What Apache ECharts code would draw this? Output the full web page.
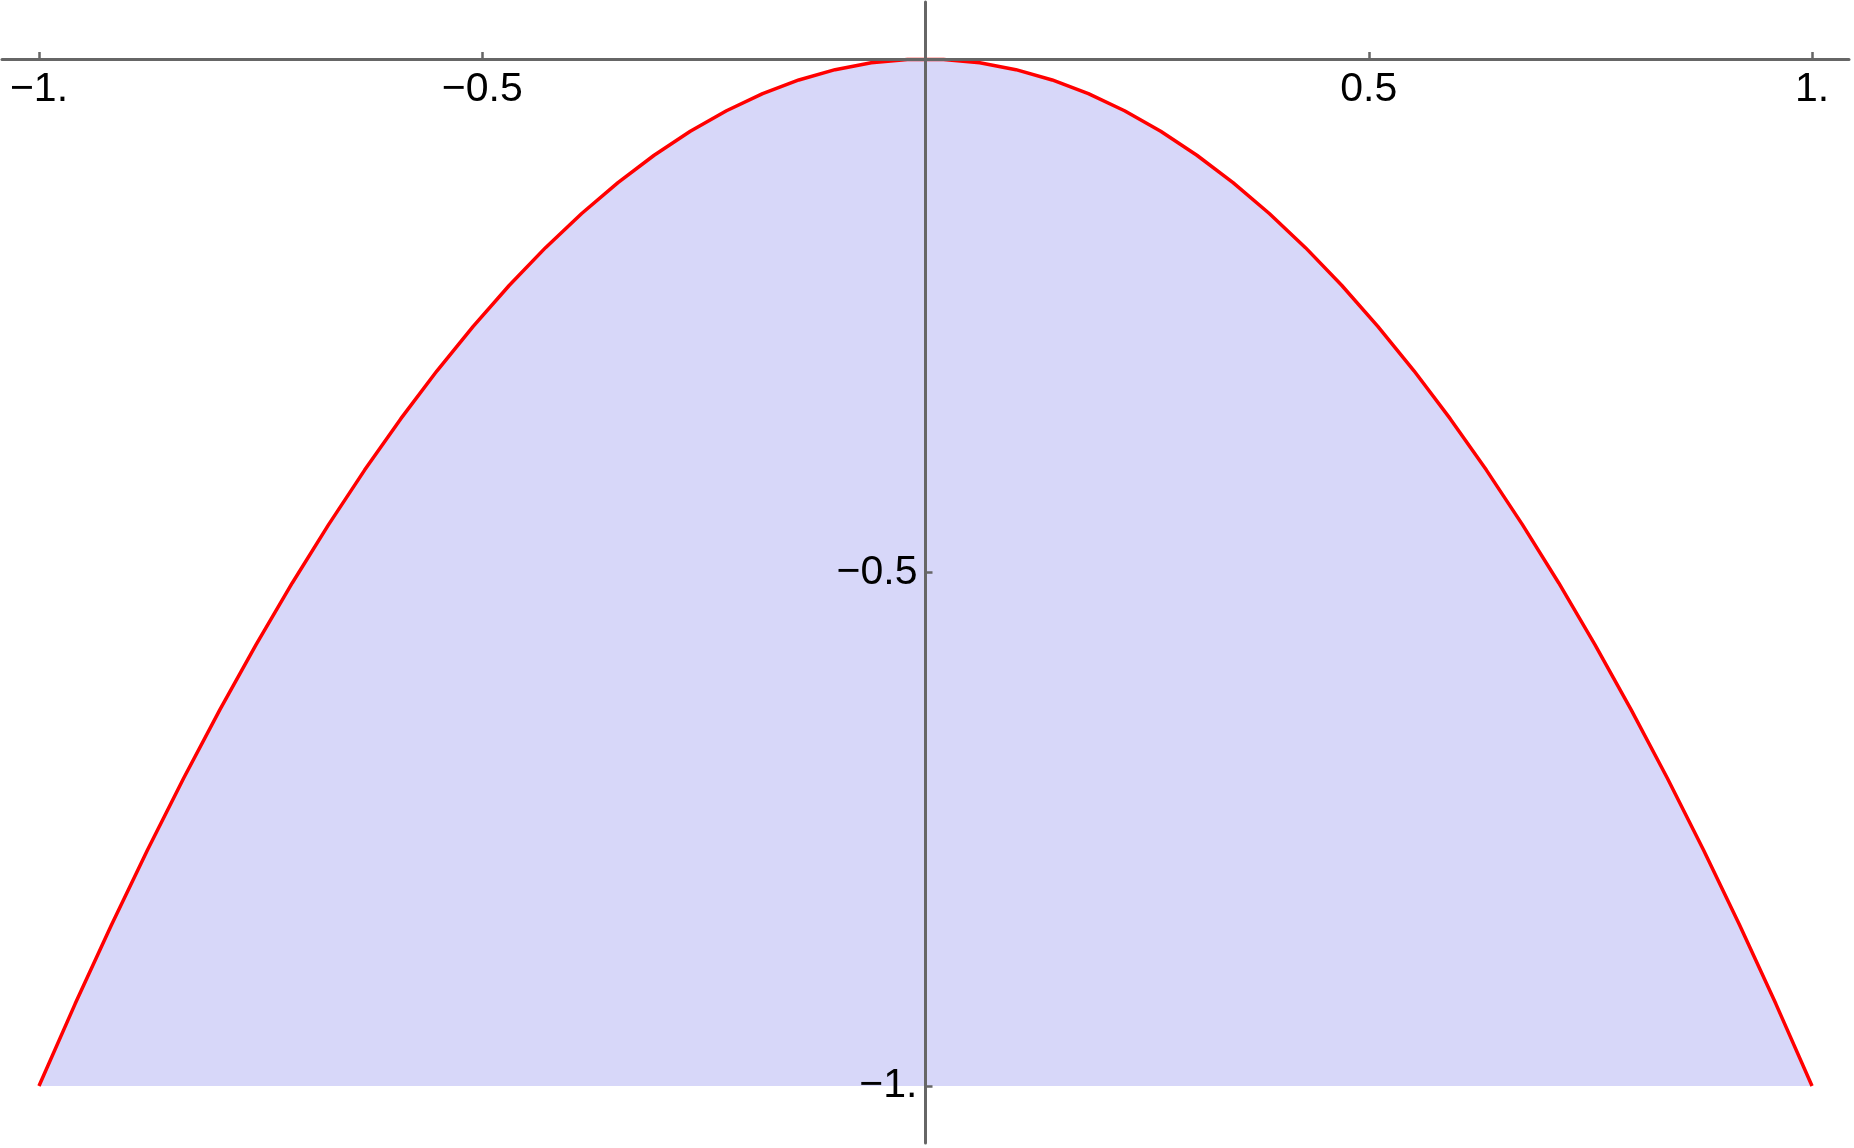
<!DOCTYPE html>
<html>
<head>
<meta charset="utf-8">
<script src="https://cdn.jsdelivr.net/npm/echarts@6/dist/echarts.min.js"></script>
<style>html,body{margin:0;padding:0;background:#fff;}#chart{width:1854px;height:1148px;}</style>
</head>
<body>
<div id="chart"></div>
<script>
// Points (x, y)
const xValues = [-1.0000,-0.9592,-0.9184,-0.8776,-0.8367,-0.7959,-0.7551,-0.7143,-0.6735,-0.6327,
  -0.5918,-0.5510,-0.5102,-0.4694,-0.4286,-0.3878,-0.3469,-0.3061,-0.2653,-0.2245,
  -0.1837,-0.1429,-0.1020,-0.0612,-0.0204,0.0204,0.0612,0.1020,0.1429,0.1837,
  0.2245,0.2653,0.3061,0.3469,0.3878,0.4286,0.4694,0.5102,0.5510,0.5918,
  0.6327,0.6735,0.7143,0.7551,0.7959,0.8367,0.8776,0.9184,0.9592,1.0000];
const yValues = [-1.0000,-0.9200,-0.8435,-0.7702,-0.7001,-0.6335,-0.5702,-0.5102,-0.4536,-0.4003,
  -0.3502,-0.3036,-0.2603,-0.2203,-0.1837,-0.1504,-0.1203,-0.0937,-0.0704,-0.0504,
  -0.0337,-0.0204,-0.0104,-0.0037,-0.0004,-0.0004,-0.0037,-0.0104,-0.0204,-0.0337,
  -0.0504,-0.0704,-0.0937,-0.1203,-0.1504,-0.1837,-0.2203,-0.2603,-0.3036,-0.3502,
  -0.4003,-0.4536,-0.5102,-0.5702,-0.6335,-0.7001,-0.7702,-0.8435,-0.9200,-1.0000];
const xTicks = [-1, -0.5, 0.5, 1];
const yTicks = [-1, -0.5];
const xTickLabels = {'-1': '\u22121.', '-0.5': '\u22120.5', '0.5': '0.5', '1': '1.'};
const yTickLabels = {'-1': '\u22121.', '-0.5': '\u22120.5'};
const fillBase = -1;

const data = xValues.map((x, i) => [x, yValues[i]]);
const axisColor = '#666666';
const labelFont = {color: '#000', fontFamily: 'Liberation Sans, Arial, sans-serif', fontSize: 41};

const W = 1854, H = 1148;
const gLeft = 2, gRight = 5, gTop = 2, gBottom = 5;
const xMin = -1.0417, xMax = 1.0417, yMin = -1.0555, yMax = 0.0555;
const gW = W - gLeft - gRight, gH = H - gTop - gBottom;
// offsets so that axes sit at the zero lines
const xAxisOffset = -(yMax / (yMax - yMin)) * gH;
const yAxisOffset = -((0 - xMin) / (xMax - xMin)) * gW;

const chart = echarts.init(document.getElementById('chart'), null, {renderer: 'canvas'});
chart.setOption({
  animation: false,
  backgroundColor: '#ffffff',
  grid: {left: gLeft, right: gRight, top: gTop, bottom: gBottom, containLabel: false, outerBoundsMode: 'none'},
  xAxis: {
    type: 'value', min: xMin, max: xMax, z: 5, position: 'top', offset: xAxisOffset,
    axisLine: {onZero: false, lineStyle: {color: axisColor, width: 3}},
    axisTick: {show: true, inside: false, length: 7, customValues: xTicks, lineStyle: {color: axisColor, width: 2.5}},
    axisLabel: Object.assign({inside: true, margin: 10, verticalAlign: 'top', customValues: xTicks, formatter: v => xTickLabels[String(v)] || ''}, labelFont),
    splitLine: {show: false}
  },
  yAxis: {
    type: 'value', min: yMin, max: yMax, z: 5, position: 'left', offset: yAxisOffset,
    axisLine: {onZero: false, lineStyle: {color: axisColor, width: 3}},
    axisTick: {show: true, inside: true, length: 7, customValues: yTicks, lineStyle: {color: axisColor, width: 2.5}},
    axisLabel: Object.assign({margin: 8, customValues: yTicks, formatter: v => yTickLabels[String(v)] || ''}, labelFont),
    splitLine: {show: false}
  },
  series: [{
    type: 'line', data: data, z: 1,
    symbol: 'none', smooth: false,
    lineStyle: {color: '#ff0000', width: 3.5},
    areaStyle: {color: 'rgb(215,215,249)', opacity: 1, origin: fillBase}
  }]
});
</script>
</body>
</html>
